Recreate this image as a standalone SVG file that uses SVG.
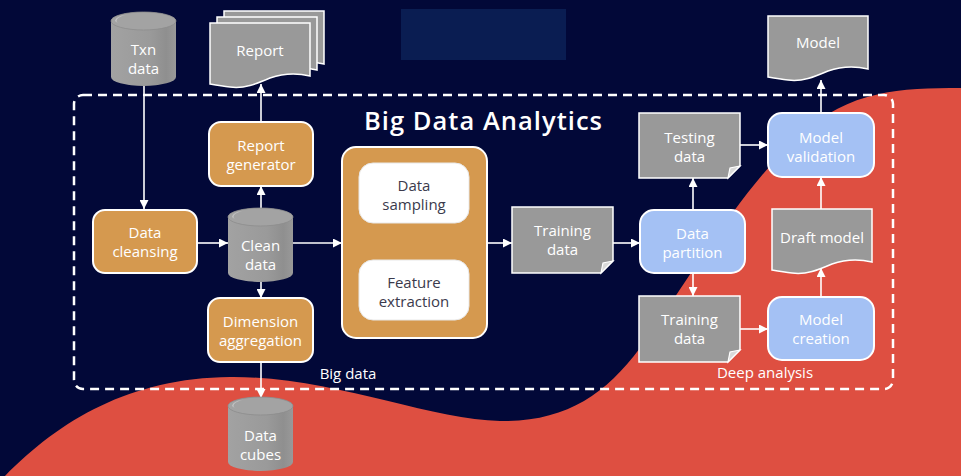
<svg xmlns="http://www.w3.org/2000/svg" xmlns:xlink="http://www.w3.org/1999/xlink" width="961" height="476" viewBox="0 0 961 476">
<style>
  text { font-family: "Open Sans", "Liberation Sans", sans-serif; font-size: 15px; fill: #ffffff; text-anchor: middle; }
  .dark { fill: #3b3a4c; }
  .orange { fill: #d5994f; stroke: #ffffff; stroke-width: 2; }
  .blue { fill: #a4c1f4; stroke: #ffffff; stroke-width: 2; }
  .white { fill: #ffffff; stroke: #e8e8e8; stroke-width: 1; }
  .gray { fill: #999999; stroke: #ffffff; stroke-width: 1.5; }
  .conn { stroke: #ffffff; stroke-width: 1.6; fill: none; marker-end: url(#ah); }
  .lbl { font-size: 15px; }
</style>
<defs>
  <marker id="ah" viewBox="0 0 10 10" refX="10" refY="5" markerWidth="9" markerHeight="9" markerUnits="userSpaceOnUse" orient="auto-start-reverse">
    <path d="M0,0 L10,5 L0,10 z" fill="#ffffff"/>
  </marker>
  <linearGradient id="cyl" x1="0" y1="0" x2="1" y2="0">
    <stop offset="0" stop-color="#a2a2a2"/>
    <stop offset="0.6" stop-color="#9a9a9a"/>
    <stop offset="0.85" stop-color="#8f8f8f"/>
    <stop offset="1" stop-color="#999999"/>
  </linearGradient>
  <path id="doc" d="M0,0 H100 V53 C88,50 74,50 60,55 C46,61 34,66 20,64 C12,63 6,62 0,61 Z"/>
  <g id="cylinder">
    <path d="M0,9 A32.5,9 0 0 1 65,9 V65 A32.5,9 0 0 1 0,65 Z" fill="url(#cyl)"/>
    <ellipse cx="32.5" cy="9" rx="32.5" ry="9" fill="#a3a3a3" stroke="#8d8d8d" stroke-width="0.8"/>
    <path d="M4,9 A14,7 0 0 1 14,3 A28,8 0 0 0 8,12 Z" fill="#c4c4c4"/>
  </g>
</defs>

<!-- background -->
<rect x="0" y="0" width="961" height="476" fill="#020838"/>
<path d="M5,476 C60,420 130,378 230,377 C330,376 430,420 500,421 C565,422 605,395 640,348 C690,278 740,190 800,135 C850,90 900,88 961,88 L961,476 Z" fill="#de4f41"/>
<rect x="401" y="9" width="165" height="51" fill="#0a1d52"/>

<!-- dashed frame -->
<rect x="74" y="95" width="819" height="294" rx="9" fill="none" stroke="#ffffff" stroke-width="2.5" stroke-dasharray="9 6"/>
<text x="483" y="130" textLength="238" lengthAdjust="spacing" style="font-size:25.5px;font-weight:600">Big Data Analytics</text>
<text x="348" y="379" class="lbl">Big data</text>
<text x="765" y="378" class="lbl">Deep analysis</text>

<!-- connectors -->
<g id="connectors">
  <path class="conn" d="M144,86 V209"/>
  <path class="conn" d="M197,243 H228"/>
  <path class="conn" d="M261,208 V186"/>
  <path class="conn" d="M261,122 V84"/>
  <path class="conn" d="M293,243 H342"/>
  <path class="conn" d="M261,282 V298"/>
  <path class="conn" d="M261,362 V398"/>
  <path class="conn" d="M414,224 V259" style="marker-start:url(#ah)"/>
  <path class="conn" d="M487,243 H512"/>
  <path class="conn" d="M613,243 H640"/>
  <path class="conn" d="M693,210 V178"/>
  <path class="conn" d="M693,273 V296"/>
  <path class="conn" d="M740,145 H768"/>
  <path class="conn" d="M740,329 H768"/>
  <path class="conn" d="M821,297 V268"/>
  <path class="conn" d="M821,209 V177"/>
  <path class="conn" d="M821,113 V80"/>
</g>

<!-- nodes -->
<g id="txn-data">
  <use xlink:href="#cylinder" x="111" y="12"/>
  <text x="143.5" y="55">Txn</text>
  <text x="143.5" y="74">data</text>
</g>

<g id="report">
  <use xlink:href="#doc" x="224" y="11" class="gray"/>
  <use xlink:href="#doc" x="217" y="17" class="gray"/>
  <use xlink:href="#doc" x="210" y="23" class="gray"/>
  <text x="260" y="56">Report</text>
</g>

<g id="report-generator">
  <rect x="209" y="122" width="104" height="64" rx="12" class="orange"/>
  <text x="261" y="151">Report</text>
  <text x="261" y="170">generator</text>
</g>

<g id="data-cleansing">
  <rect x="93" y="210" width="104" height="63" rx="12" class="orange"/>
  <text x="145" y="238">Data</text>
  <text x="145" y="257">cleansing</text>
</g>

<g id="clean-data">
  <use xlink:href="#cylinder" x="228" y="208"/>
  <text x="260.5" y="251">Clean</text>
  <text x="260.5" y="270">data</text>
</g>

<g id="dimension-aggregation">
  <rect x="208" y="298" width="105" height="64" rx="12" class="orange"/>
  <text x="260.5" y="327">Dimension</text>
  <text x="260.5" y="346">aggregation</text>
</g>

<g id="data-cubes">
  <use xlink:href="#cylinder" x="228" y="397"/>
  <text x="260.5" y="441">Data</text>
  <text x="260.5" y="460">cubes</text>
</g>

<g id="big-data-processing">
  <rect x="342" y="147" width="145" height="191" rx="14" class="orange"/>
</g>

<g id="data-sampling">
  <rect x="359" y="163" width="110" height="60" rx="14" class="white"/>
  <text x="414" y="191" class="dark">Data</text>
  <text x="414" y="210" class="dark">sampling</text>
</g>

<g id="feature-extraction">
  <rect x="359" y="260" width="110" height="60" rx="14" class="white"/>
  <text x="414" y="288" class="dark">Feature</text>
  <text x="414" y="307" class="dark">extraction</text>
</g>

<g id="training-data-1">
  <path d="M512,207 H613 V261 L601,273 H512 Z" class="gray"/>
  <path d="M613,261 L603,263 L601,273 Z" fill="#d9d9d9" stroke="#ffffff" stroke-width="1.2"/>
  <text x="562.5" y="236">Training</text>
  <text x="562.5" y="255">data</text>
</g>

<g id="data-partition">
  <rect x="640" y="210" width="105" height="63" rx="14" class="blue"/>
  <text x="692.5" y="239">Data</text>
  <text x="692.5" y="258">partition</text>
</g>

<g id="testing-data">
  <path d="M639,113 H740 V166 L728,178 H639 Z" class="gray"/>
  <path d="M740,166 L730,168 L728,178 Z" fill="#d9d9d9" stroke="#ffffff" stroke-width="1.2"/>
  <text x="689.5" y="143">Testing</text>
  <text x="689.5" y="162">data</text>
</g>

<g id="training-data-2">
  <path d="M639,296 H740 V350 L728,362 H639 Z" class="gray"/>
  <path d="M740,350 L730,352 L728,362 Z" fill="#d9d9d9" stroke="#ffffff" stroke-width="1.2"/>
  <text x="689.5" y="325">Training</text>
  <text x="689.5" y="344">data</text>
</g>

<g id="model-validation">
  <rect x="768" y="113" width="106" height="64" rx="14" class="blue"/>
  <text x="821" y="143">Model</text>
  <text x="821" y="162">validation</text>
</g>

<g id="model-creation">
  <rect x="768" y="297" width="106" height="63" rx="14" class="blue"/>
  <text x="821" y="325">Model</text>
  <text x="821" y="344">creation</text>
</g>

<g id="draft-model">
  <use xlink:href="#doc" x="772" y="209" class="gray"/>
  <text x="822" y="243">Draft model</text>
</g>

<g id="model">
  <use xlink:href="#doc" x="768" y="16" class="gray"/>
  <text x="818" y="48">Model</text>
</g>
</svg>
